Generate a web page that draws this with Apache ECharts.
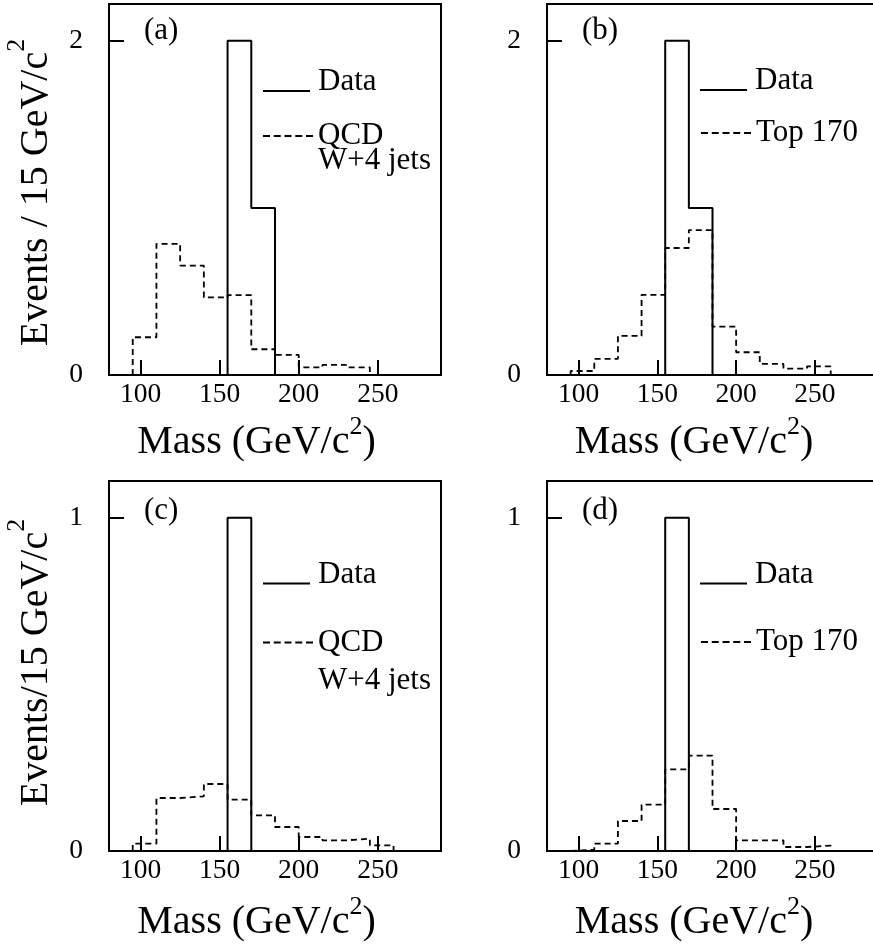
<!DOCTYPE html>
<html><head><meta charset="utf-8">
<script src="https://cdn.jsdelivr.net/npm/echarts@6/dist/echarts.min.js"></script>
<style>html,body{margin:0;padding:0;background:#fff}#c{width:873px;height:948px}</style>
</head><body><div id="c"></div>
<script>
// ---- data (Events per 15 GeV/c^2 bin) ----
const binEdges = [95, 110, 125, 140, 155, 170, 185, 200, 215, 230, 245, 260];
const dataTop = [0, 0, 0, 0, 2, 1, 0, 0, 0, 0, 0];
const qcdTop = [0.226, 0.785, 0.655, 0.464, 0.478, 0.154, 0.12, 0.046, 0.06, 0.046, 0];
const top170Top = [0.024, 0.096, 0.234, 0.48, 0.76, 0.867, 0.29, 0.136, 0.066, 0.038, 0.052];
const dataBottom = [0, 0, 0, 0, 1, 0, 0, 0, 0, 0, 0];
const qcdBottom = [0.022, 0.159, 0.164, 0.201, 0.154, 0.107, 0.072, 0.042, 0.032, 0.037, 0.017];
const top170Bottom = [0.004, 0.022, 0.09, 0.139, 0.245, 0.286, 0.126, 0.032, 0.032, 0.012, 0.016];
const xTicks = [100, 150, 200, 250];
const yTicksTop = [0, 2];
const yTicksBottom = [0, 1];
const panelLabels = ['(a)', '(b)', '(c)', '(d)'];
const seriesNames = ['Data', 'QCD W+4 jets', 'Top 170'];

const FF = '"Liberation Serif", "DejaVu Serif", serif';

function stepPoints(vals) {
  let i0 = vals.findIndex(v => v > 0);
  let i1 = vals.length - 1;
  while (i1 >= 0 && !(vals[i1] > 0)) i1--;
  const pts = [[binEdges[i0], 0]];
  for (let k = i0; k <= i1; k++) pts.push([binEdges[k], vals[k]]);
  pts.push([binEdges[i1 + 1], 0]);
  return pts;
}

const grids = [
  {left: 109, top: 4, width: 332, height: 371},
  {left: 547, top: 4, width: 331, height: 371},
  {left: 109, top: 481, width: 332, height: 370},
  {left: 547, top: 481, width: 331, height: 370}
].map(g => Object.assign(g, {show: true, borderColor: '#000', borderWidth: 2, backgroundColor: 'transparent', containLabel: false, outerBoundsMode: 'none'}));

const blk = {color: '#000', width: 2};
function xAxisCfg(gi, gap) {
  return {
    gridIndex: gi, type: 'value', min: 80, max: 290,
    axisLine: {show: true, onZero: false, lineStyle: blk},
    axisTick: {show: true, inside: true, length: 15, customValues: xTicks, lineStyle: blk},
    axisLabel: {show: true, customValues: xTicks, margin: 6, fontSize: 27.5, fontFamily: FF, color: '#000'},
    splitLine: {show: false},
    name: 'Mass (GeV/c{sup|2})', nameLocation: 'middle', nameGap: gap, nameMoveOverlap: false,
    nameTextStyle: {fontSize: 40, fontFamily: FF, color: '#000', lineHeight: 56, padding: [0, 37, 0, 0],
      rich: {sup: {fontSize: 26, fontFamily: FF, color: '#000', verticalAlign: 'top'}}}
  };
}
function yAxisCfg(gi, ymax, ticks, name, pad) {
  const c = {
    gridIndex: gi, type: 'value', min: 0, max: ymax,
    axisLine: {show: true, onZero: false, lineStyle: blk},
    axisTick: {show: true, inside: true, length: 15, customValues: ticks, lineStyle: blk},
    axisLabel: {show: true, customValues: ticks, margin: 26, fontSize: 27.5, fontFamily: FF, color: '#000'},
    splitLine: {show: false}
  };
  if (name) {
    Object.assign(c, {
      name: name, nameLocation: 'middle', nameGap: 40.5, nameRotate: 90, nameMoveOverlap: false,
      nameTextStyle: {fontSize: 40, fontFamily: FF, color: '#000', lineHeight: 64, padding: pad,
        rich: {sup: {fontSize: 26, fontFamily: FF, color: '#000', verticalAlign: 'top'}}}
    });
  }
  return c;
}

function lineSeries(name, gi, vals, dashed) {
  return {
    type: 'line', name: name, xAxisIndex: gi, yAxisIndex: gi,
    data: stepPoints(vals), step: 'end', symbol: 'none', silent: true,
    lineStyle: {color: '#000', width: dashed ? 1.8 : 2, type: dashed ? [6, 4] : 'solid'},
    itemStyle: {color: '#000'}, z: dashed ? 3 : 4
  };
}

const solidIcon = 'path://M0,0h0.1v0.1h-0.1zM0,18h47v2h-47zM49.9,0h0.1v0.1h-0.1z';
const dashIcon = 'path://M0,0h7v2h-7zM10.75,0h7v2h-7zM21.5,0h7v2h-7zM32.25,0h7v2h-7zM43,0h7v2h-7z';
function legendCfg(name, text, left, top, solid, lh) {
  return {
    data: [{name: name, icon: solid ? solidIcon : dashIcon}],
    left: left, top: top, orient: 'vertical', padding: 0, selectedMode: false,
    itemWidth: 50, itemHeight: solid ? 20 : 2,
    itemStyle: {color: '#000', borderWidth: 0},
    textStyle: {fontFamily: FF, fontSize: 31, color: '#000', lineHeight: lh},
    formatter: () => text
  };
}
function titleCfg(t, left, top) {
  return {text: t, left: left, top: top, padding: 0,
    textStyle: {fontSize: 31, fontWeight: 'normal', fontFamily: FF, color: '#000', lineHeight: 31}};
}

const option = {
  animation: false,
  backgroundColor: '#fff',
  grid: grids,
  title: [
    titleCfg(panelLabels[0], 144, 15),
    titleCfg(panelLabels[1], 582, 15),
    titleCfg(panelLabels[2], 144, 495),
    titleCfg(panelLabels[3], 582, 495)
  ],
  legend: [
    legendCfg(seriesNames[0], 'Data', 263, 66.5, true, 31),
    legendCfg(seriesNames[1], ' \nQCD\nW+4 jets', 263, 95.5, false, 25),
    legendCfg(seriesNames[0], 'Data', 700, 65.5, true, 31),
    legendCfg(seriesNames[2], 'Top 170', 701, 117.5, false, 31),
    legendCfg(seriesNames[0], 'Data', 263, 559, true, 31),
    legendCfg(seriesNames[1], ' \nQCD\nW+4 jets', 263, 585.5, false, 38),
    legendCfg(seriesNames[0], 'Data', 700, 559, true, 31),
    legendCfg(seriesNames[2], 'Top 170', 701, 626.5, false, 31)
  ],
  xAxis: [xAxisCfg(0, 39.5), xAxisCfg(1, 39.5), xAxisCfg(2, 43.5), xAxisCfg(3, 43.5)],
  yAxis: [
    yAxisCfg(0, 2.22, yTicksTop, 'Events / 15 GeV/c{sup|2}', [0, 6, 0, 0]),
    yAxisCfg(1, 2.22, yTicksTop, null),
    yAxisCfg(2, 1.11, yTicksBottom, 'Events/15 GeV/c{sup|2}', [0, 0, 0, 7]),
    yAxisCfg(3, 1.11, yTicksBottom, null)
  ],
  series: [
    lineSeries(seriesNames[0], 0, dataTop, false),
    lineSeries(seriesNames[1], 0, qcdTop, true),
    lineSeries(seriesNames[0], 1, dataTop, false),
    lineSeries(seriesNames[2], 1, top170Top, true),
    lineSeries(seriesNames[0], 2, dataBottom, false),
    lineSeries(seriesNames[1], 2, qcdBottom, true),
    lineSeries(seriesNames[0], 3, dataBottom, false),
    lineSeries(seriesNames[2], 3, top170Bottom, true)
  ]
};
const chart = echarts.init(document.getElementById('c'), null, {renderer: 'canvas'});
chart.setOption(option);
</script>
</body></html>
